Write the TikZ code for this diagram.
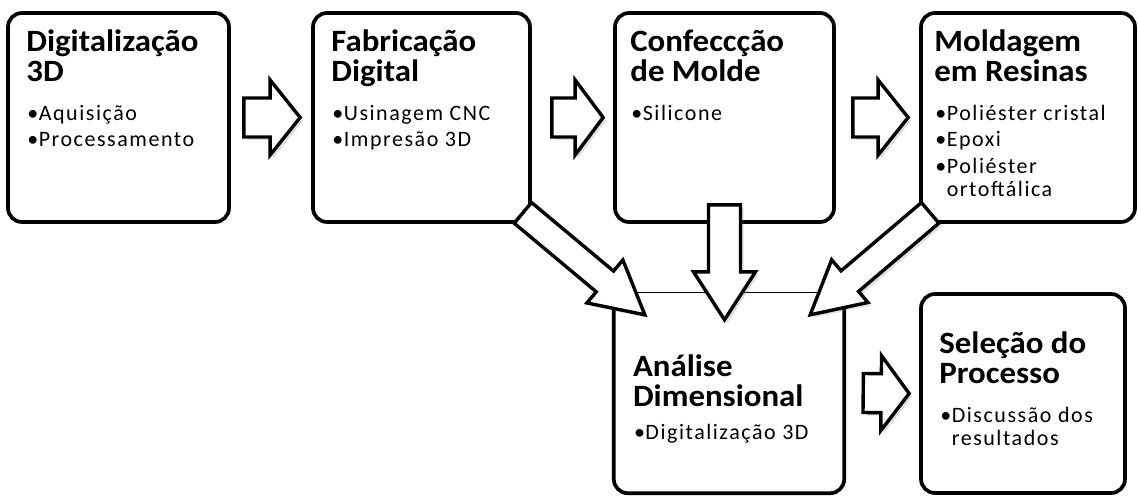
\documentclass[tikz,border=0pt]{standalone}
\usepackage{fontspec}
\setmainfont{Carlito}
\newfontfamily\itemfont[LetterSpace=7]{Carlito}
\newfontfamily\titlefont[FakeStretch=1.06]{Carlito}
\usetikzlibrary{calc,shadows}
\newcommand\bul{\makebox[11.5pt][l]{•}}
\newcommand\blockarrow[5]{% tail, tip, shaft half width, head half width, head length
  \coordinate (ba-h) at ($(#2)!#5pt!(#1)$);
  \draw[blockarr] ($(#1)!#3pt!90:(#2)$) -- ($(ba-h)!#3pt!90:(#2)$) -- ($(ba-h)!#4pt!90:(#2)$) -- (#2)
     -- ($(ba-h)!#4pt!-90:(#2)$) -- ($(ba-h)!#3pt!-90:(#2)$) -- ($(#1)!#3pt!-90:(#2)$) -- cycle;
}
\tikzset{
  box/.style={draw, line width=3.7pt, rounded corners=14pt, fill=white, inner sep=0pt},
  blockarr/.style={draw, line width=3.4pt, fill=white, line join=miter,
     drop shadow={shadow xshift=3pt, shadow yshift=-3pt, opacity=0.25}},
  ttl/.style={anchor=base west, inner sep=0pt, font=\fontsize{31}{32}\titlefont\bfseries},
  itm/.style={anchor=base west, inner sep=0pt, font=\fontsize{22}{24}\selectfont\itemfont},
}
\begin{document}
\begin{tikzpicture}[x=1pt,y=-1pt]
\useasboundingbox[fill=white] (0,0) rectangle (1138,497);
% boxes
\node[box, minimum width=221pt, minimum height=209pt] (b1) at (118.5,117.5) {};
\node[box, minimum width=217pt, minimum height=209pt] (b2) at (421.5,117.5) {};
\node[box, minimum width=219pt, minimum height=209pt] (b3) at (724.5,117.5) {};
\node[box, minimum width=214pt, minimum height=209pt] (b4) at (1028,117.5) {};
\node[box, minimum width=204pt, minimum height=199pt] (b6) at (1023,393.5) {};
\node[fill=white, inner sep=0pt, minimum width=230pt, minimum height=200pt] (b5) at (729,393) {};
\draw[line width=3.7pt, rounded corners=14pt] (b5.north west) -- (b5.south west) -- (b5.south east) -- (b5.north east);
\draw[line width=1pt] (b5.north west) -- (b5.north east);
% texts
\node[ttl] (t1a) at ([shift={(20,40)}]b1.north west) {Digitalização};
\node[ttl] (t1b) at ([shift={(20,70)}]b1.north west) {3D};
\node[itm] (t1c) at ([shift={(21,109)}]b1.north west) {\bul Aquisição};
\node[itm] (t1d) at ([shift={(21,135)}]b1.north west) {\bul Processamento};
\node[ttl] (t2a) at ([shift={(20,40)}]b2.north west) {Fabricação};
\node[ttl] (t2b) at ([shift={(20,70)}]b2.north west) {Digital};
\node[itm] (t2c) at ([shift={(21,109)}]b2.north west) {\bul Usinagem CNC};
\node[itm] (t2d) at ([shift={(21,135)}]b2.north west) {\bul Impresão 3D};
\node[ttl] (t3a) at ([shift={(17,40)}]b3.north west) {Confeccção};
\node[ttl] (t3b) at ([shift={(17,70)}]b3.north west) {de Molde};
\node[itm] (t3c) at ([shift={(18,109)}]b3.north west) {\bul Silicone};
\node[ttl] (t4a) at ([shift={(15,40)}]b4.north west) {Moldagem};
\node[ttl] (t4b) at ([shift={(15,70)}]b4.north west) {em Resinas};
\node[itm] (t4c) at ([shift={(16,109)}]b4.north west) {\bul Poliéster cristal};
\node[itm] (t4d) at ([shift={(16,135)}]b4.north west) {\bul Epoxi};
\node[itm] (t4e) at ([shift={(16,162)}]b4.north west) {\bul Poliéster};
\node[itm] (t4f) at ([shift={(27.5,185)}]b4.north west) {ortoftálica};
\node[ttl] (t5a) at ([shift={(19,84)}]b5.north west) {Análise};
\node[ttl] (t5b) at ([shift={(19,114)}]b5.north west) {Dimensional};
\node[itm] (t5c) at ([shift={(20,147)}]b5.north west) {\bul Digitalização 3D};
\node[ttl] (t6a) at ([shift={(20,61)}]b6.north west) {Seleção do};
\node[ttl] (t6b) at ([shift={(20,91)}]b6.north west) {Processo};
\node[itm] (t6c) at ([shift={(21,130)}]b6.north west) {\bul Discussão dos};
\node[itm] (t6d) at ([shift={(32.5,153)}]b6.north west) {resultados};
% arrow end points
\coordinate (a1s) at ([xshift=13pt]b1.east);
\coordinate (a1e) at ([xshift=-11pt]b2.west);
\coordinate (a2s) at ([xshift=20pt]b2.east);
\coordinate (a2e) at ([xshift=-10pt]b3.west);
\coordinate (a3s) at ([xshift=17pt]b3.east);
\coordinate (a3e) at ([xshift=-11pt]b4.west);
\coordinate (a5s) at ([xshift=19pt]b5.east);
\coordinate (a5e) at ([xshift=-10pt]b6.west);
\coordinate (dns) at ([yshift=19pt]b3.south);
\coordinate (dnm) at (b3.south |- b5.north);
\coordinate (dne) at ([yshift=-27pt]dnm);
\coordinate (dls) at ([shift={(-9,-11)}]b2.south east);
\coordinate (dle) at ([shift={(31,22)}]b5.north west);
\coordinate (drs) at ([shift={(11,-11)}]b4.south west);
\coordinate (dre) at ([shift={(-34,22)}]b5.north east);
% arrows
\blockarrow{a1s}{a1e}{19.5}{37.5}{30}
\blockarrow{a2s}{a2e}{19.5}{37.5}{28}
\blockarrow{a3s}{a3e}{19.5}{37.5}{30}
\blockarrow{a5s}{a5e}{19.5}{37.5}{28}
\blockarrow{dls}{dle}{13.5}{28}{52}
\blockarrow{drs}{dre}{13.5}{28}{52}
\blockarrow{dns}{dne}{16}{31}{48}
\end{tikzpicture}
\end{document}
